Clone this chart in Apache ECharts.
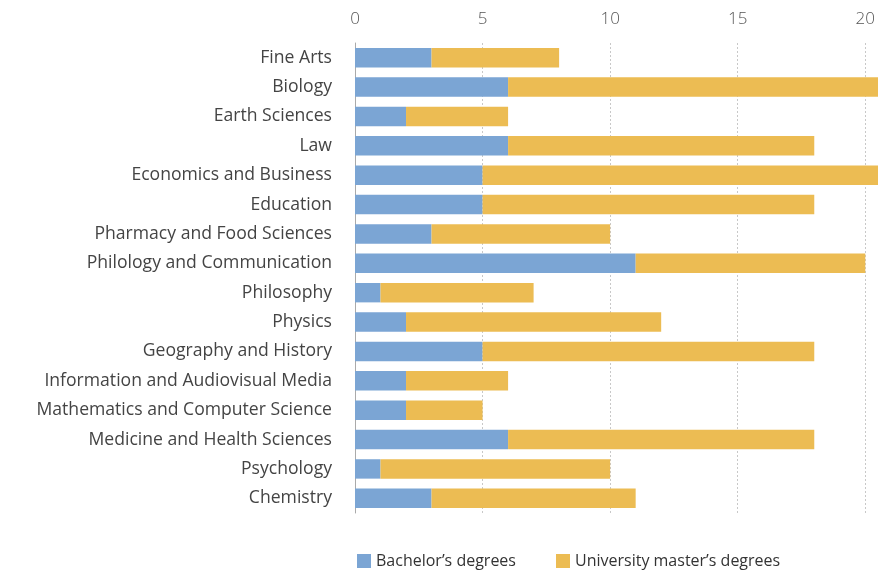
<!DOCTYPE html>
<html>
<head>
<meta charset="utf-8">
<script src="https://cdn.jsdelivr.net/npm/echarts@6/dist/echarts.min.js"></script>
<style>
  html, body { margin: 0; padding: 0; background: #fff; }
  #main { width: 878px; height: 573px; }
</style>
</head>
<body>
<div id="main"></div>
<script>
// degrees per faculty
var faculties = ['Fine Arts', 'Biology', 'Earth Sciences', 'Law', 'Economics and Business',
  'Education', 'Pharmacy and Food Sciences', 'Philology and Communication', 'Philosophy',
  'Physics', 'Geography and History', 'Information and Audiovisual Media',
  'Mathematics and Computer Science', 'Medicine and Health Sciences', 'Psychology', 'Chemistry'];
var bachelor = [3, 6, 2, 6, 5, 5, 3, 11, 1, 2, 5, 2, 2, 6, 1, 3];
var master = [5, 16, 4, 12, 19, 13, 7, 9, 6, 10, 13, 4, 3, 12, 9, 8];
var ticks = [0, 5, 10, 15, 20];

var myChart = echarts.init(document.getElementById('main'));

var option = {
    animation: false,
    textStyle: { fontFamily: 'Open Sans' },
    legend: {
        left: 357,
        top: 553,
        padding: 0,
        icon: 'rect',
        itemWidth: 14,
        itemHeight: 14,
        itemGap: 40,
        textStyle: { fontSize: 16, color: '#333' },
        data: ['Bachelor’s degrees', 'University master’s degrees']
    },
    grid: {
        left: 355,
        top: 43,
        right: 8,
        height: 470
    },
    xAxis: {
        type: 'value',
        position: 'top',
        min: ticks[0],
        max: ticks[ticks.length - 1],
        interval: 5,
        axisLine: { show: false },
        axisTick: { show: false },
        axisLabel: { margin: 15, fontSize: 17, color: '#555', fontWeight: 300 },
        splitLine: {
            show: true,
            lineStyle: { color: '#c8c8c8', type: [2, 2], width: 1 }
        }
    },
    yAxis: {
        type: 'category',
        inverse: true,
        data: faculties,
        axisLine: { show: true, lineStyle: { color: '#aaa', width: 1 } },
        axisTick: { show: false },
        axisLabel: { margin: 23, fontSize: 17.6, color: '#444' }
    },
    series: [
        {
            name: 'Bachelor’s degrees',
            type: 'bar',
            stack: 'deg',
            barWidth: '66%',
            clip: false,
            itemStyle: { color: '#7ba5d4' },
            data: bachelor
        },
        {
            name: 'University master’s degrees',
            type: 'bar',
            stack: 'deg',
            barWidth: '66%',
            clip: false,
            itemStyle: { color: '#ecbc53' },
            data: master
        }
    ]
};
myChart.setOption(option);
</script>
</body>
</html>
